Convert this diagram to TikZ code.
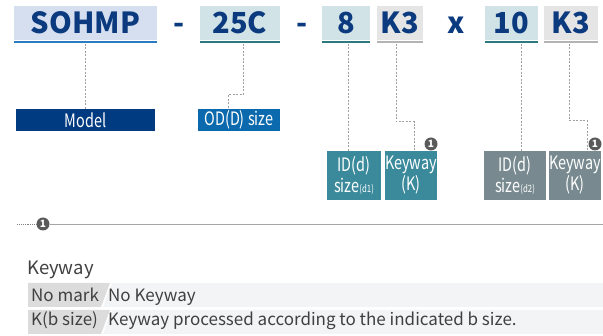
\documentclass[tikz,border=0pt]{standalone}
\usepackage{fontspec}
\setmainfont{Noto Sans CJK KR}
\newfontfamily\condfont[FakeStretch=0.78]{Noto Sans CJK KR}
\usetikzlibrary{calc}

\definecolor{codetext}{HTML}{0B3A7E}
\definecolor{modelfill}{HTML}{D5DFF0}
\definecolor{modelline}{HTML}{2A7BBF}
\definecolor{sizefill}{HTML}{D2E3E7}
\definecolor{sizeline}{HTML}{2A7A80}
\definecolor{keyfill}{HTML}{E5E5E5}
\definecolor{keyline}{HTML}{B3B3B3}
\definecolor{modelbox}{HTML}{003A80}
\definecolor{odbox}{HTML}{0A6AAD}
\definecolor{idbox}{HTML}{3A8A9C}
\definecolor{greybox}{HTML}{788A90}
\definecolor{badgegray}{HTML}{5A5A5A}
\definecolor{dashgray}{HTML}{A0A0A0}
\definecolor{cellA}{HTML}{DCDCDC}
\definecolor{cellB}{HTML}{F3F4F6}
\definecolor{bodytext}{HTML}{404040}

\begin{document}
\begin{tikzpicture}[x=1pt, y=-1pt,
	codebox/.style={inner sep=0, minimum height=34pt, text height=21pt, text depth=0pt,
		font=\fontsize{29}{29}\selectfont\bfseries, text=codetext},
	sepchar/.style={inner sep=0, text height=21pt, text depth=0pt,
		font=\fontsize{29}{29}\selectfont\bfseries, text=codetext},
	tag/.style={inner sep=0, font=\condfont\fontsize{18.5}{21}\selectfont, text=white, align=center},
	badge/.style={circle, fill=badgegray, text=white, inner sep=0, minimum size=13pt,
		font=\fontsize{10}{10}\selectfont\bfseries},
	conn/.style={draw=dashgray, dash pattern=on 2pt off 1.5pt, line width=0.8pt},
	rowtext/.style={anchor=base west, inner sep=0, text=bodytext, font=\fontsize{17}{17}\selectfont}]
	\useasboundingbox (0,0) rectangle (603,336);

	% code line
	\node[codebox, fill=modelfill, minimum width=143pt] (sohmp) at (85.5,23.5) {SOHMP};
	\node[sepchar] (dashA) at (179,23.5) {-};
	\node[codebox, fill=sizefill, minimum width=80pt] (c25) at (240,23.5) {25C};
	\node[sepchar] (dashB) at (302,23.5) {-};
	\node[codebox, fill=sizefill, minimum width=48pt] (n8) at (346,23.5) {8};
	\node[codebox, fill=keyfill, minimum width=46pt] (k3a) at (400,23.5) {K3};
	\node[sepchar] (times) at (456,23.5) {x};
	\node[codebox, fill=sizefill, minimum width=53pt] (n10) at (511.5,23.5) {10};
	\node[codebox, fill=keyfill, minimum width=54pt] (k3b) at (571,23.5) {K3};
	\foreach \n/\c in {sohmp/modelline, c25/sizeline, n8/sizeline, k3a/keyline, n10/sizeline, k3b/keyline}
		\draw[\c, line width=2.5pt] ([yshift=-1.2pt]\n.south west) -- ([yshift=-1.2pt]\n.south east);

	% labels
	\node[tag, fill=modelbox, minimum width=139pt, minimum height=22pt] (model) at (85.5,120) {Model};
	\node[tag, fill=odbox, minimum width=82pt, minimum height=22pt] (odsize) at (239,120) {OD(D) size};
	\node[tag, fill=idbox, minimum width=54pt, minimum height=49pt] (idone) at (354,175.5)
		{ID(d)\\size{\fontsize{10}{10}\selectfont(d1)}};
	\node[tag, fill=idbox, minimum width=50pt, minimum height=49pt] (keyone) at (411,175.5) {Keyway\\(K)};
	\node[tag, fill=greybox, minimum width=62pt, minimum height=49pt] (idtwo) at (515,175.5)
		{ID(d)\\size{\fontsize{10}{10}\selectfont(d2)}};
	\node[tag, fill=greybox, minimum width=50pt, minimum height=49pt] (keytwo) at (575,175.5) {Keyway\\(K)};
	\node[badge] (markA) at (431,144) {1};
	\node[badge] (markB) at (595,144) {1};

	% dashed leaders
	\draw[conn] ([yshift=-3pt]sohmp.south) -- (model.north);
	\draw[conn] ([xshift=3pt,yshift=-3pt]c25.south) -- ++(0,51) -| ([xshift=-11pt]odsize.north);
	\coordinate (t8) at ([xshift=2pt,yshift=-3pt]n8.south);
	\draw[conn] (t8) -- (t8 |- idone.north);
	\draw[conn] ([xshift=-4pt,yshift=-3pt]k3a.south) -- ++(0,78) -| ([xshift=3pt]keyone.north);
	\coordinate (t10) at ([xshift=10pt,yshift=-3pt]n10.south);
	\draw[conn] (t10) -- (t10 |- idtwo.north);
	\draw[conn] ([xshift=-2pt,yshift=-3pt]k3b.south) -- ++(0,77) -| ([xshift=12pt]keytwo.north);

	% note
	\node[badge] (markC) at (43,224) {1};
	\coordinate (ruleL) at (17,224);
	\coordinate (ruleR) at (603,224);
	\draw[gray, densely dotted, line width=0.9pt] (ruleL) -- (markC.west);
	\draw[black!35, line width=0.6pt] (markC.east) -- (ruleR);
	\node[anchor=base west, inner sep=0, text=bodytext, font=\fontsize{18.5}{18.5}\selectfont] (keyhead) at (27,275) {Keyway};

	\fill[cellA] (28,283) -- (110,283) -- (101,307) -- (28,307) -- cycle;
	\fill[cellB] (112,283) -- (603,283) -- (603,307) -- (103,307) -- cycle;
	\fill[cellA] (28,310) -- (110,310) -- (101,334) -- (28,334) -- cycle;
	\fill[cellB] (112,310) -- (603,310) -- (603,334) -- (103,334) -- cycle;
	\node[rowtext] (nomark) at (31,302) {No mark};
	\node[rowtext] (nokey) at (108,302) {No Keyway};
	\node[rowtext] (bsize) at (31,326) {K(b size)};
	\node[rowtext] (bkey) at (108,326) {Keyway processed according to the indicated b size.};
\end{tikzpicture}
\end{document}
